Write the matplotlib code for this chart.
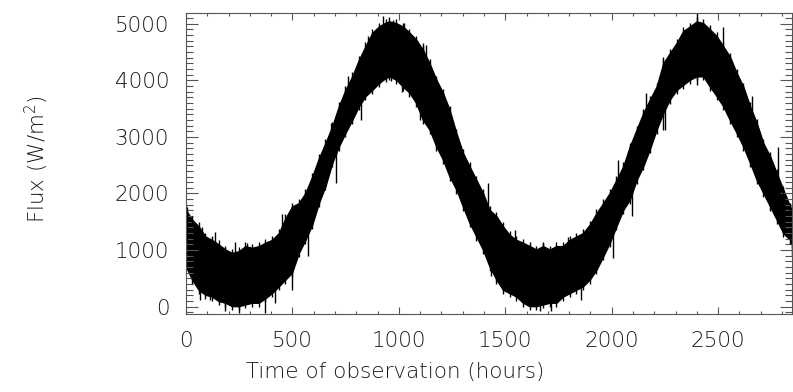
import numpy as np
import matplotlib
matplotlib.use('Agg')
import matplotlib.pyplot as plt
from matplotlib.ticker import MultipleLocator

# edges of the flux band, every ~31 hours
hours = [0, 28, 59, 91, 122, 153, 185, 216, 248, 279, 310, 342, 373, 404,
         436, 467, 498, 530, 561, 593, 624, 655, 687, 718, 749, 781, 812,
         843, 875, 906, 938,
         956, 987, 1019, 1050, 1081, 1113, 1144, 1176, 1207, 1238, 1270,
         1301, 1332, 1364, 1395, 1426, 1458, 1489, 1520, 1552, 1583, 1615,
         1646, 1677, 1709, 1740, 1771, 1803, 1834, 1865, 1897,
         1928, 1960, 1991, 2022, 2054, 2085, 2117, 2148, 2179, 2211, 2242,
         2273, 2305, 2336, 2367, 2399, 2430, 2461, 2493, 2524, 2555, 2587,
         2618, 2650, 2681, 2712, 2744, 2775, 2806, 2838, 2847]
flux_upper = [1710, 1540, 1420, 1240, 1180, 1100, 1010, 950, 980, 1070,
              1040, 1070, 1130, 1180, 1300, 1560, 1770, 1830, 2010, 2300,
              2620, 2890, 3190, 3540, 3830, 4070, 4360, 4600, 4840, 4950,
              5020,
              5040, 5010, 4950, 4840, 4720, 4540, 4300, 4010, 3780, 3480,
              3070, 2720, 2480, 2240, 2010, 1710, 1600, 1420, 1270, 1180,
              1130, 1070, 1010, 1070, 1010, 1070, 1070, 1180, 1240, 1300,
              1450,
              1650, 1830, 2010, 2240, 2480, 2830, 3130, 3420, 3660, 3890,
              4300, 4480, 4660, 4870, 4950, 5040, 5010, 4900, 4780, 4600,
              4420, 4130, 3890, 3540, 3250, 2890, 2660, 2360, 2070, 1770,
              1700]
flux_lower = [710, 480, 300, 210, 180, 100, 70, 10, 10, 40,
              70, 70, 150, 240, 360, 480, 600, 950, 1180, 1450,
              1830, 2130, 2540, 2830, 3070, 3300, 3540, 3720, 3830, 3950,
              4040,
              4070, 4010, 3890, 3780, 3600, 3300, 3130, 2830, 2600, 2300,
              2070, 1770, 1480, 1240, 1010, 710, 480, 300, 240, 180,
              70, 10, 10, 40, 70, 70, 180, 240, 300, 360,
              480,
              650, 890, 1130, 1420, 1710, 1890, 2240, 2480, 2780, 3130,
              3420, 3660, 3830, 3920, 4010, 4070, 4070, 3890, 3720, 3540,
              3300, 3070, 2830, 2540, 2240, 2010, 1770, 1540, 1300, 1180,
              1100]

# isolated spikes sticking out of the band
spike_hours = [5, 75, 138, 229, 287, 408, 451, 495, 577,
               67, 114, 185, 248, 373, 420, 499,
               681, 760, 854, 924, 972, 1026, 1113,
               572, 705, 823, 964, 1015, 1097,
               1129, 1419, 1544, 1678, 1184, 1435, 1497, 1607, 1662,
               1795, 1920, 2030, 2163, 2242, 1716, 1857, 2006, 2093, 2242,
               2399, 2524, 2658, 2783, 2250, 2399, 2579, 2846]
spike_flux = [1770, 1410, 1320, 1150, 1120, 1180, 1630, 1690, 2070,
              120, 120, -80, -120, -120, 60, 300,
              3240, 4070, 4780, 5130, 5070, 5010, 4660,
              890, 2190, 3300, 3980, 3800, 3300,
              4630, 2190, 1360, 1130, 2770, 540, 300, 5, -80,
              1240, 1480, 2600, 3780, 4420, -80, 120, 860, 1600, 3130,
              5190, 4950, 3720, 2830, 3130, 3920, 3220, 890]

plt.rcParams['font.family'] = ['DejaVu Sans']
plt.rcParams['mathtext.default'] = 'regular'
txt = '#1a1a1a'
axc = '#555555'

fig = plt.figure(figsize=(7.93, 3.92), dpi=100)
ax = fig.add_axes([186 / 793, 1 - 314 / 392, 606 / 793, 301 / 392])

ax.fill_between(hours, flux_lower, flux_upper, color='black', lw=1.0,
                edgecolor='black')
# hairy edges of the noisy band
ax.plot(hours, flux_upper, ls='none', marker='|', ms=6, mew=1.0, color='black')
ax.plot(hours, flux_lower, ls='none', marker='|', ms=6, mew=1.0, color='black')
mid = np.interp(spike_hours, hours,
                (np.array(flux_upper) + np.array(flux_lower)) / 2)
ax.vlines(spike_hours, spike_flux, mid, color='black', lw=1.0)

ax.set_xlim(0, 2847)
ax.set_ylim(-129, 5189)
ax.xaxis.set_major_locator(MultipleLocator(500))
ax.xaxis.set_minor_locator(MultipleLocator(100))
ax.yaxis.set_major_locator(MultipleLocator(1000))
ax.yaxis.set_minor_locator(MultipleLocator(100))

for s in ax.spines.values():
    s.set_color(axc)
    s.set_linewidth(0.8)
ax.tick_params(axis='x', which='major', direction='in', length=5,
               top=True, width=0.8, color=axc)
ax.tick_params(axis='x', which='minor', direction='in', length=2.5,
               top=True, width=0.8, color=axc)
ax.tick_params(axis='y', which='major', direction='in', length=8.6,
               right=True, width=0.8, color=axc)
ax.tick_params(axis='y', which='minor', direction='in', length=4.8,
               right=True, width=0.8, color=axc)
ax.tick_params(axis='both', labelsize=15.5, labelcolor=txt)
ax.tick_params(axis='x', pad=12)
ax.tick_params(axis='y', pad=12)
for lab in ax.get_xticklabels() + ax.get_yticklabels():
    lab.set_fontweight('light')

fig.text(395 / 793, 1 - 372 / 392, 'Time of observation (hours)',
         ha='center', va='center', fontsize=15.5, color=txt, fontweight='light')
fig.text(37 / 793, 1 - 159 / 392, 'Flux (W/m$^{2}$)', rotation=90,
         ha='center', va='center', fontsize=15.5, color=txt, fontweight='light')

fig.savefig('out.png', dpi=100)
